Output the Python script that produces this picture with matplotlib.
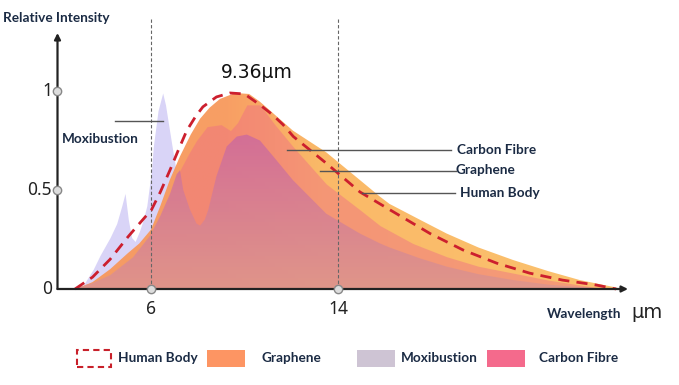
import matplotlib
matplotlib.use('Agg')
import matplotlib.pyplot as plt
import numpy as np
from matplotlib.patches import Rectangle, PathPatch
from matplotlib.colors import LinearSegmentedColormap

# ---------------- data ----------------
human_x = [2.75, 3.5, 4.25, 5.02, 5.5, 6.02, 6.4, 6.81, 7.2, 7.53, 7.9, 8.22, 8.8, 9.38,
           10.0, 10.66, 11.2, 11.65, 12.09, 13.5, 14.94, 16.22, 17.94, 19.35, 20.8,
           22.2, 23.6, 25.05, 25.9]
human_y = [0.0, 0.06, 0.15, 0.264, 0.33, 0.40, 0.49, 0.60, 0.71, 0.80, 0.87, 0.92, 0.97, 0.99,
           0.985, 0.93, 0.88, 0.83, 0.77, 0.635, 0.49, 0.40, 0.28, 0.197, 0.13,
           0.08, 0.045, 0.02, 0.0]

graphene_x = [2.8, 3.5, 4.25, 5.0, 5.5, 6.0, 6.4, 6.8, 7.24, 7.7, 8.1, 8.5, 8.95, 9.6,
              10.2, 10.66, 11.3, 12.07, 13.5, 14.94, 15.8, 16.2, 17.5, 18.65, 20.0,
              21.5, 23.0, 24.35, 25.8, 26.1]
graphene_y = [0.0, 0.035, 0.10, 0.18, 0.23, 0.30, 0.42, 0.55, 0.67, 0.78, 0.86, 0.915, 0.96, 0.99,
              0.985, 0.946, 0.88, 0.80, 0.69, 0.55, 0.466, 0.43, 0.35, 0.28, 0.21,
              0.146, 0.09, 0.045, 0.01, 0.0]

carbon_x = [2.6, 3.5, 4.25, 5.23, 5.96, 6.4, 6.81, 7.24, 7.6, 7.95, 8.4, 9.0, 9.4, 9.7,
            10.1, 10.66, 11.3, 12.07, 13.5, 14.94, 15.8, 17.2, 18.65, 20.0, 21.5,
            23.0, 24.35, 25.5]
carbon_y = [0.0, 0.03, 0.07, 0.16, 0.27, 0.37, 0.48, 0.60, 0.68, 0.75, 0.82, 0.83, 0.80, 0.84,
            0.93, 0.93, 0.83, 0.72, 0.53, 0.40, 0.32, 0.23, 0.163, 0.115, 0.08,
            0.045, 0.02, 0.0]

core_x = [2.6, 3.5, 4.25, 5.23, 5.96, 6.4, 6.81, 7.1, 7.24, 7.38, 7.67, 7.95, 8.1, 8.3,
          8.45, 8.8, 9.24, 9.67, 10.1, 10.66, 11.3, 12.07, 13.5, 14.94, 15.8, 16.2,
          17.5, 18.65, 20.0, 21.5, 23.0, 24.35, 25.5]
core_y = [0.0, 0.03, 0.07, 0.16, 0.27, 0.37, 0.48, 0.58, 0.60, 0.50, 0.40, 0.33, 0.32, 0.35,
          0.40, 0.57, 0.72, 0.77, 0.78, 0.75, 0.66, 0.55, 0.38, 0.28, 0.23, 0.21,
          0.155, 0.113, 0.075, 0.045, 0.022, 0.01, 0.0]

moxa_x = [3.0, 3.53, 3.82, 4.25, 4.53, 4.75, 4.89, 5.03, 5.17, 5.32, 5.5, 5.67, 5.82,
          6.02, 6.1, 6.3, 6.5, 6.62, 6.74, 6.95, 7.1, 7.24, 7.45, 7.7, 8.0]
moxa_y = [0.0, 0.10, 0.17, 0.26, 0.33, 0.42, 0.483, 0.35, 0.26, 0.24, 0.29, 0.35, 0.42,
          0.60, 0.72, 0.90, 0.99, 0.93, 0.84, 0.685, 0.58, 0.47, 0.30, 0.12, 0.0]

y_ticks = [0, 0.5, 1]
y_tick_labels = ['0', '0.5', '1']
x_ticks = [6, 14]
x_tick_labels = ['6', '14']
peak_label = '9.36\u03bcm'

legend_labels = ['Human Body', 'Graphene', 'Moxibustion', 'Carbon Fibre']
legend_colors = ['#C8202A', '#FD9563', '#CEC4D4', '#F46A8C']

# ---------------- figure / coordinate frame ----------------
W, H = 679, 385
X0, SX = 10.75, 23.375
Y0, SY = 289.0, 198.0


def px(x):
    return (x - X0) / SX


def py(y):
    return (Y0 - y) / SY


fig = plt.figure(figsize=(W / 100, H / 100), dpi=100)
ax = fig.add_axes([0, 0, 1, 1])
ax.axis('off')

LABEL_FONT = dict(family='Lato', color='#1B2B44', fontweight='bold')
NUM_FONT = dict(family='Noto Sans', color='#222222')
LFS = 9.8


def grad_fill(xs, ys, stops, direction, zorder, alpha=1.0):
    coll = ax.fill_between(xs, ys, 0, facecolor='none', edgecolor='none')
    path = coll.get_paths()[0]
    patch = PathPatch(path, transform=ax.transData, facecolor='none', edgecolor='none')
    ax.add_patch(patch)
    cmap = LinearSegmentedColormap.from_list('g', stops)
    if direction == 'h':
        arr = np.linspace(0, 1, 256).reshape(1, -1)
    else:
        arr = np.linspace(0, 1, 256).reshape(-1, 1)
    im = ax.imshow(arr, cmap=cmap, extent=[min(xs), max(xs), 0, max(ys)], origin='lower',
                   aspect='auto', zorder=zorder, alpha=alpha, interpolation='bilinear')
    im.set_clip_path(patch)


# Moxibustion (under everything)
ax.fill_between(moxa_x, moxa_y, 0, color='#D9D4F7', lw=0, zorder=1)

# Graphene outer layer: orange to yellow towards long wavelengths
grad_fill(graphene_x, graphene_y,
          [(0, '#F7985C'), (0.28, '#F89A5C'), (0.45, '#FAB660'), (1, '#FBBF66')],
          'h', zorder=2, alpha=0.95)

# Carbon fibre layer (translucent pink)
ax.fill_between(carbon_x, carbon_y, 0, color='#EE6C86', alpha=0.45, lw=0, zorder=3)

# inner core (vertical gradient)
grad_fill(core_x, core_y, [(0, '#DE968C'), (1, '#D06C9A')], 'v', zorder=4, alpha=0.9)

# Human body dashed curve
ax.plot(human_x, human_y, color='#CC1F2E', lw=2.0, dashes=(4, 2.6), zorder=6,
        solid_capstyle='butt')

# reference dashed verticals
for xv in x_ticks:
    ax.plot([xv, xv], [0, py(18)], color='#666666', lw=0.8, dashes=(3, 2), zorder=5)

# axes with arrows
ax.annotate('', xy=(2.0, py(33)), xytext=(2.0, 0), zorder=7,
            arrowprops=dict(arrowstyle='-|>', color='#222222', lw=1.6,
                            mutation_scale=9, shrinkA=0, shrinkB=0))
ax.annotate('', xy=(px(628), 0), xytext=(2.0, 0), zorder=7,
            arrowprops=dict(arrowstyle='-|>', color='#222222', lw=1.6,
                            mutation_scale=9, shrinkA=0, shrinkB=0))

# tick circles
ax.plot([2.0] * 2, [0.5, 1.0], 'o', ms=6, mfc='#DDDDDD', mec='#888888', mew=1.0, zorder=8)
ax.plot(x_ticks, [0] * len(x_ticks), 'o', ms=6, mfc='#DDDDDD', mec='#888888', mew=1.0, zorder=8)

# tick labels
for v, t in zip(y_ticks, y_tick_labels):
    ax.text(px(52), v, t, ha='right', va='center', fontsize=12.5, **NUM_FONT)
for v, t in zip(x_ticks, x_tick_labels):
    ax.text(v, py(309), t, ha='center', va='center', fontsize=12.5, **NUM_FONT)

# titles
ax.text(px(3), py(18), 'Relative Intensity', ha='left', va='center', fontsize=LFS, **LABEL_FONT)
ax.text(px(547), py(314), 'Wavelength', ha='left', va='center', fontsize=LFS, **LABEL_FONT)
ax.text(px(631), py(312), '\u03bcm', ha='left', va='center', fontsize=14, family='DejaVu Sans',
        color='#222222')
ax.text(px(257), py(73), peak_label, ha='center', va='center', fontsize=13.5,
        family='DejaVu Sans', color='#111111')

# leader lines + labels
leader = dict(color='#555555', lw=1.0, zorder=9)
ax.plot([px(115), px(163)], [py(121), py(121)], **leader)
ax.text(px(62), py(139), 'Moxibustion', ha='left', va='center', fontsize=LFS, **LABEL_FONT)
ax.plot([px(287), px(451)], [py(150), py(150)], **leader)
ax.text(px(457), py(150), 'Carbon Fibre', ha='left', va='center', fontsize=LFS, **LABEL_FONT)
ax.plot([px(320), px(456)], [py(171), py(171)], **leader)
ax.text(px(456), py(170), 'Graphene', ha='left', va='center', fontsize=LFS, **LABEL_FONT)
ax.plot([px(362), px(455)], [py(193), py(193)], **leader)
ax.text(px(460), py(193), 'Human Body', ha='left', va='center', fontsize=LFS, **LABEL_FONT)

ax.set_xlim(px(0), px(W))
ax.set_ylim(py(H), py(0))

# legend (manual, in pixel positions)
box_x = [77, 207, 357, 487]
text_x = [118, 262, 401, 539]
for i, (lab, col) in enumerate(zip(legend_labels, legend_colors)):
    x0 = box_x[i] / W
    y0 = 1 - 367 / H
    w = 38 / W if i else 34 / W
    h = 17 / H
    if i == 0:
        r = Rectangle((x0, y0), w, h, transform=fig.transFigure, facecolor='none',
                      edgecolor=col, lw=1.5, linestyle=(0, (3, 2)))
    else:
        r = Rectangle((x0, y0), w, h, transform=fig.transFigure, facecolor=col,
                      edgecolor='none')
    fig.patches.append(r)
    fig.text(text_x[i] / W, 1 - 358 / H, lab, ha='left', va='center', fontsize=LFS,
             **LABEL_FONT)

fig.savefig('out.png', dpi=100, facecolor='white')
